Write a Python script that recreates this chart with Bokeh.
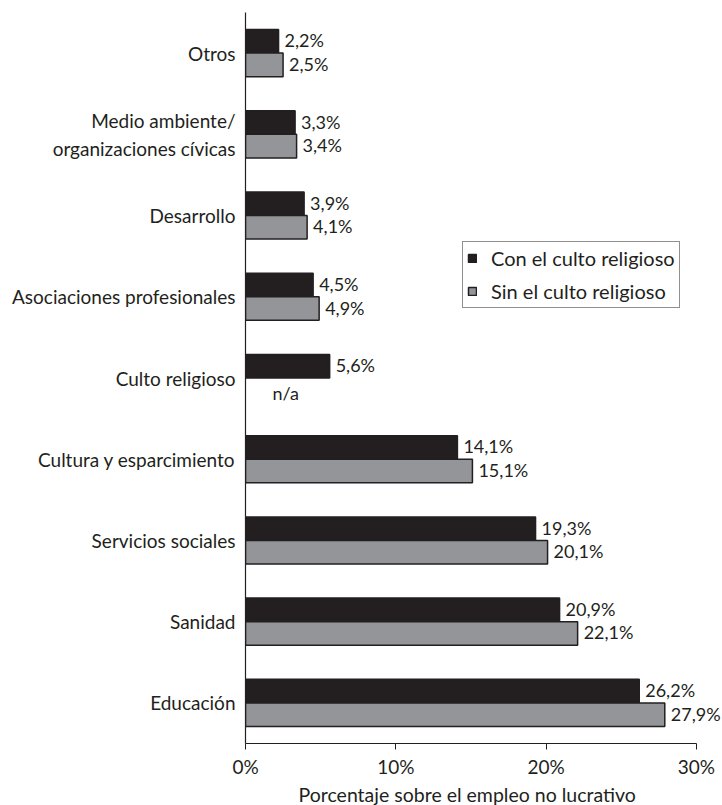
from bokeh.plotting import figure
from bokeh.models import (ColumnDataSource, FactorRange, Range1d, FixedTicker,
                          LabelSet, Legend, LegendItem, Title)
from bokeh.core.properties import value
from bokeh.transform import dodge
from bokeh.embed import file_html
from bokeh.resources import INLINE

categories = ["Otros", "Medio ambiente/\norganizaciones cívicas", "Desarrollo",
              "Asociaciones profesionales", "Culto religioso",
              "Cultura y esparcimiento", "Servicios sociales", "Sanidad", "Educación"]
con_culto = [2.2, 3.3, 3.9, 4.5, 5.6, 14.1, 19.3, 20.9, 26.2]
sin_culto = [2.5, 3.4, 4.1, 4.9, None, 15.1, 20.1, 22.1, 27.9]
x_ticks = [0, 10, 20, 30]
x_tick_labels = ["0%", "10%", "20%", "30%"]
series_names = ["Con el culto religioso", "Sin el culto religioso"]
x_title = "Porcentaje sobre el empleo no lucrativo"

DARK = "#231f20"
GRAY = "#939598"
FONT = "Lato"
FS = "19px"
VFS = "18px"

def fmt(v):
    return "n/a" if v is None else ("%.1f%%" % v).replace(".", ",")

src_con = ColumnDataSource(dict(cat=categories, val=con_culto,
                                lab=[fmt(v) for v in con_culto]))
sin_cat = [c for c, v in zip(categories, sin_culto) if v is not None]
sin_val = [v for v in sin_culto if v is not None]
src_sin = ColumnDataSource(dict(cat=sin_cat, val=sin_val,
                                lab=[fmt(v) for v in sin_val]))
na_cat = [c for c, v in zip(categories, sin_culto) if v is None]
src_na = ColumnDataSource(dict(cat=na_cat, val=[0] * len(na_cat),
                               lab=[fmt(None)] * len(na_cat)))

p = figure(width=722, height=805, output_backend="svg", toolbar_location=None,
           y_range=FactorRange(*categories[::-1], range_padding=0),
           x_range=Range1d(0, 31.74),
           min_border_left=245, min_border_right=0,
           min_border_top=12, min_border_bottom=58)
p.outline_line_color = None
p.xgrid.grid_line_color = None
p.ygrid.grid_line_color = None
p.background_fill_color = "white"

bh = 0.29
r_con = p.hbar(y=dodge("cat", bh / 2, range=p.y_range), right="val", left=0,
               height=bh, source=src_con, fill_color=DARK,
               line_color=DARK, line_width=1.5)
r_sin = p.hbar(y=dodge("cat", -bh / 2, range=p.y_range), right="val", left=0,
               height=bh, source=src_sin, fill_color=GRAY,
               line_color=DARK, line_width=1.5)

lab_kw = dict(text_font=value(FONT), text_font_size=value(VFS), text_color=DARK,
              text_baseline="middle", text_align="left", x_offset=6, y_offset=1)
p.add_layout(LabelSet(x="val", y=dodge("cat", bh / 2, range=p.y_range),
                      text="lab", source=src_con, **lab_kw))
p.add_layout(LabelSet(x="val", y=dodge("cat", -bh / 2, range=p.y_range),
                      text="lab", source=src_sin, **lab_kw))
p.add_layout(LabelSet(x="val", y=dodge("cat", -bh / 2, range=p.y_range),
                      text="lab", source=src_na, text_font=value(FONT),
                      text_font_size=value(VFS), text_color=DARK,
                      text_baseline="middle", text_align="left",
                      x_offset=27, y_offset=-3))

# axes
xa = p.xaxis[0]
xa.ticker = FixedTicker(ticks=x_ticks)
xa.major_label_overrides = {t: l for t, l in zip(x_ticks, x_tick_labels)}
xa.bounds = (0, 30)
xa.minor_tick_line_color = None
xa.major_tick_in = 0
xa.major_tick_out = 6
xa.axis_line_color = DARK
xa.major_tick_line_color = DARK
xa.axis_line_width = 1.2
xa.major_label_text_font = FONT
xa.major_label_text_font_size = FS
xa.major_label_text_color = DARK
xa.major_label_standoff = 5

ya = p.yaxis[0]
ya.major_tick_line_color = None
ya.minor_tick_line_color = None
ya.axis_line_color = DARK
ya.axis_line_width = 1.2
ya.major_label_text_font = FONT
ya.major_label_text_font_size = FS
ya.major_label_text_color = DARK
ya.major_label_standoff = 4

p.add_layout(Title(text=x_title, align="left", offset=53, standoff=0,
                   text_font=FONT, text_font_size="19.5px",
                   text_font_style="normal", text_color=DARK), "below")

legend = Legend(items=[LegendItem(label=series_names[0], renderers=[r_con]),
                       LegendItem(label=series_names[1], renderers=[r_sin])],
                location=(217, 435), orientation="vertical")
legend.label_text_font = FONT
legend.label_text_font_size = "20px"
legend.label_text_color = DARK
legend.glyph_width = 10
legend.glyph_height = 10
legend.label_standoff = 14
legend.label_height = 22
legend.spacing = 9
legend.padding = 4
legend.margin = 0
legend.border_line_color = DARK
legend.border_line_width = 1.2
legend.background_fill_alpha = 1
p.add_layout(legend, "center")

open("out.html", "w").write(file_html(p, INLINE))
